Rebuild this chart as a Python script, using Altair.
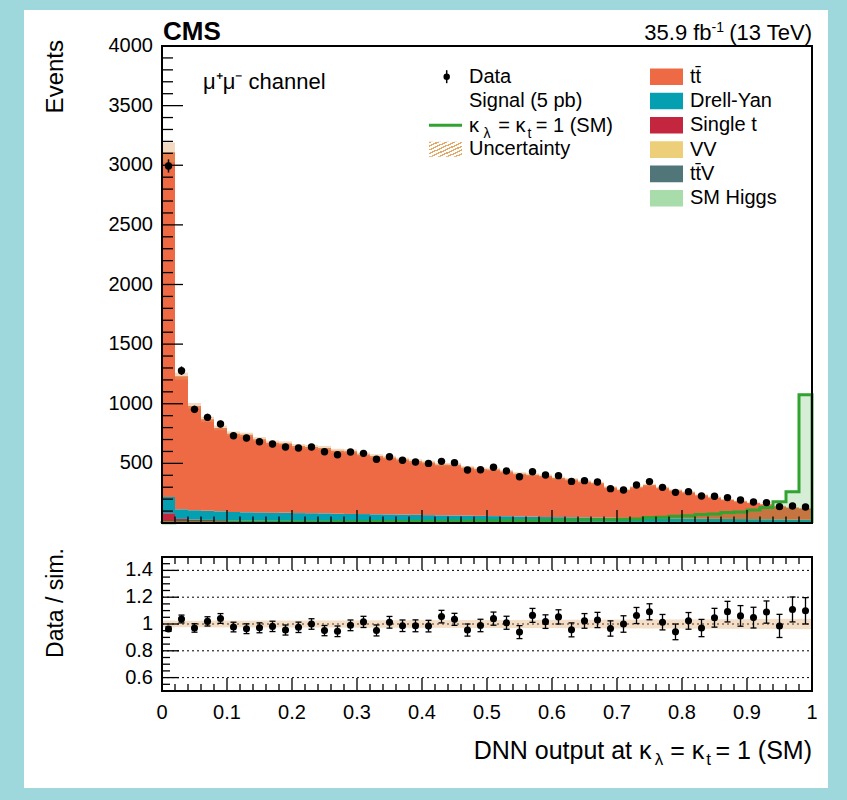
import altair as alt
import numpy as np
import pandas as pd

FONT = "Liberation Sans"

# ---------------- data ----------------
bin_edges = [round(0.02 * i, 2) for i in range(51)]

data_counts = [2994, 1277, 953, 886, 830, 732, 713, 682, 662, 637,
               629, 637, 598, 573, 595, 584, 534, 556, 526, 512,
               500, 517, 506, 444, 447, 467, 436, 388, 430, 402,
               397, 349, 355, 344, 288, 277, 319, 347, 299, 257,
               263, 226, 224, 213, 193, 176, 171, 137, 143, 134]
data_err = [55, 36, 31, 30, 29, 27, 27, 26, 26, 25,
            25, 25, 24, 24, 24, 24, 23, 24, 23, 23,
            22, 23, 22, 21, 21, 22, 21, 20, 21, 20,
            20, 19, 19, 19, 17, 17, 18, 19, 17, 16,
            16, 15, 15, 15, 14, 13, 13, 12, 12, 12]

ttbar = [2891, 1116, 875, 767, 699, 656, 649, 613, 587, 582,
         562, 555, 548, 528, 525, 500, 488, 477, 463, 450,
         442, 426, 426, 403, 392, 391, 375, 358, 351, 345,
         328, 317, 300, 288, 253, 234, 258, 277, 255, 234,
         219, 197, 179, 161, 149, 136, 126, 109, 101, 95]
drell_yan = [136, 81, 78, 76, 74, 72, 70, 69, 68, 66,
             65, 64, 63, 61, 60, 59, 58, 57, 55, 54,
             52, 50, 49, 48, 47, 46, 45, 43, 42, 40,
             39, 38, 37, 36, 35, 34, 33, 32, 31, 30,
             29, 28, 27, 26, 25, 24, 23, 22, 21, 20]
single_t = [70, 25, 20, 17, 15, 13, 12, 12, 11, 11,
            10, 10, 10, 9, 9, 9, 8, 8, 8, 8,
            7, 7, 7, 7, 6, 6, 6, 6, 6, 5,
            5, 5, 5, 5, 5, 4, 4, 4, 4, 4,
            4, 3, 3, 3, 3, 3, 3, 3, 2, 2]
vv = [6, 5, 5, 5, 5, 4, 4, 4, 4, 4,
      4, 4, 4, 4, 3, 3, 3, 3, 3, 3,
      3, 3, 3, 3, 3, 3, 3, 3, 2, 2,
      2, 2, 2, 2, 2, 2, 2, 2, 2, 2,
      2, 2, 2, 2, 2, 2, 2, 2, 2, 2]
ttv = [5, 3, 3, 3, 3, 3, 3, 3, 3, 3,
       3, 3, 3, 3, 3, 3, 3, 3, 3, 3,
       3, 3, 3, 3, 3, 2, 2, 2, 2, 2,
       2, 2, 2, 2, 2, 2, 2, 2, 2, 2,
       2, 2, 2, 2, 2, 2, 2, 2, 2, 2]
sm_higgs = [1, 1, 1, 1, 1, 1, 1, 1, 1, 1,
            1, 1, 1, 1, 1, 1, 1, 1, 1, 1,
            1, 1, 1, 1, 1, 1, 1, 1, 1, 1,
            1, 1, 1, 1, 1, 1, 1, 1, 1, 1,
            1, 1, 1, 1, 1, 1, 1, 1, 1, 1]
signal = [3, 4, 4, 5, 5, 6, 6, 7, 7, 8,
          8, 9, 9, 10, 10, 11, 12, 12, 13, 14,
          15, 15, 16, 17, 18, 19, 20, 21, 22, 23,
          24, 25, 27, 28, 30, 32, 34, 46, 49, 57,
          60, 72, 75, 89, 93, 108, 131, 178, 262, 1075]
rel_unc = [0.026, 0.024, 0.024, 0.025, 0.025, 0.025, 0.025, 0.026, 0.026, 0.026,
           0.026, 0.027, 0.027, 0.027, 0.027, 0.028, 0.028, 0.028, 0.028, 0.029,
           0.029, 0.029, 0.029, 0.030, 0.030, 0.030, 0.030, 0.031, 0.031, 0.031,
           0.031, 0.032, 0.032, 0.032, 0.033, 0.033, 0.033, 0.034, 0.034, 0.034,
           0.035, 0.035, 0.035, 0.036, 0.036, 0.037, 0.037, 0.038, 0.038, 0.039]

process_names = ["SM Higgs", "ttV", "VV", "Single t", "Drell-Yan", "ttbar"]
process_colors = ["#a8dcaa", "#51767a", "#eccf78", "#c4263f", "#04a0b2", "#ed6a44"]
process_series = {"SM Higgs": sm_higgs, "ttV": ttv, "VV": vv,
                  "Single t": single_t, "Drell-Yan": drell_yan, "ttbar": ttbar}

legend_right = [("tt̄", "#ed6a44"), ("Drell-Yan", "#04a0b2"), ("Single t", "#c4263f"),
                ("VV", "#eccf78"), ("tt̄V", "#51767a"), ("SM Higgs", "#a8dcaa")]

y_major_top = list(range(0, 4001, 500))
y_minor_top = [v for v in range(0, 4001, 100) if v % 500]
y_label_vals_top = [500, 1000, 1500, 2000, 2500, 3000, 3500, 4000]
y_label_text_top = ["500", "1000", "1500", "2000", "2500", "3000", "3500", "4000"]
x_major = [round(0.1 * i, 1) for i in range(11)]
x_minor = [round(0.02 * i, 2) for i in range(51) if i % 5]
x_label_text = ["0", "0.1", "0.2", "0.3", "0.4", "0.5", "0.6", "0.7", "0.8", "0.9", "1"]
r_major = [0.6, 0.8, 1.0, 1.2, 1.4]
r_label_text = ["0.6", "0.8", "1", "1.2", "1.4"]
r_minor = [0.55, 0.65, 0.7, 0.75, 0.85, 0.9, 0.95, 1.05, 1.1, 1.15, 1.25, 1.3, 1.35, 1.45]
r_grid = [0.6, 0.8, 1.0, 1.2, 1.4]

SIG_GREEN = "#31a331"
HATCH = "#e0a060"

# ---------------- tables ----------------
lo = bin_edges[:-1]
hi = bin_edges[1:]
cen = [(a + b) / 2 for a, b in zip(lo, hi)]

rows = []
base = np.zeros(50)
for name in process_names:
    v = np.asarray(process_series[name], float)
    for i in range(50):
        rows.append({"lo": lo[i], "hi": hi[i], "y0": base[i], "y1": base[i] + v[i], "proc": name})
    base = base + v
stack_df = pd.DataFrame(rows)
total = base

ru = np.asarray(rel_unc)
n = np.asarray(data_counts, float)
ne = np.asarray(data_err, float)
unc_df = pd.DataFrame({"lo": lo, "hi": hi, "ulo": total * (1 - ru), "uhi": total * (1 + ru),
                       "blo": 1 - ru, "bhi": 1 + ru})
data_df = pd.DataFrame({"c": cen, "n": n, "elo": n - ne, "ehi": n + ne,
                        "r": n / total, "rlo": (n - ne) / total, "rhi": (n + ne) / total})

sig_area_df = pd.DataFrame({"x": lo + [1.0], "s": signal + [signal[-1]], "z": 0.0})
pts = [(0.0, 0.0)]
for i in range(50):
    pts.append((lo[i], signal[i]))
    pts.append((hi[i], signal[i]))
pts.append((1.0, 0.0))
sig_line_df = pd.DataFrame({"x": [p[0] for p in pts], "s": [p[1] for p in pts], "i": list(range(len(pts)))})

one = pd.DataFrame({"k": [0]})

W, H1, H2 = 650, 477, 134
XS = alt.Scale(domain=[0, 1], nice=False, zero=False)
YS = alt.Scale(domain=[0, 4000], nice=False, zero=False)
RS = alt.Scale(domain=[0.5, 1.5], nice=False, zero=False)


def text_layer(txt, x, y, size=20, align="left", baseline="middle", weight="normal", angle=0):
    return alt.Chart(one).mark_text(
        text=txt, font=FONT, fontSize=size, align=align, baseline=baseline,
        fontWeight=weight, angle=angle, color="black"
    ).encode(x=alt.value(x), y=alt.value(y))


def xticks(vals, y0, y1):
    return alt.Chart(pd.DataFrame({"t": vals})).mark_rule(color="black", strokeWidth=1.3).encode(
        x=alt.X("t:Q", scale=XS, axis=None), y=alt.value(y0), y2=alt.value(y1))


def yticks(vals, length, scale):
    return alt.Chart(pd.DataFrame({"t": vals})).mark_rule(color="black", strokeWidth=1.3).encode(
        y=alt.Y("t:Q", scale=scale, axis=None), x=alt.value(0), x2=alt.value(length))


def ylabels(vals, texts, scale):
    return alt.Chart(pd.DataFrame({"v": vals, "t": texts})).mark_text(
        font=FONT, fontSize=20, align="right", baseline="middle", color="black").encode(
        y=alt.Y("v:Q", scale=scale, axis=None), x=alt.value(-9), text="t:N")


def xlabels(vals, texts, y):
    return alt.Chart(pd.DataFrame({"v": vals, "t": texts})).mark_text(
        font=FONT, fontSize=20, align="center", baseline="top", color="black").encode(
        x=alt.X("v:Q", scale=XS, axis=None), y=alt.value(y), text="t:N")


def frame(h):
    return alt.Chart(one).mark_rect(fillOpacity=0, stroke="black", strokeWidth=2).encode(
        x=alt.value(0), x2=alt.value(W), y=alt.value(0), y2=alt.value(h))


def white_bg(y0, y1):
    return alt.Chart(one).mark_rect(fill="white").encode(
        x=alt.value(-138), x2=alt.value(666), y=alt.value(y0), y2=alt.value(y1))


# ---------------- top panel ----------------
stack = alt.Chart(stack_df).mark_rect().encode(
    x=alt.X("lo:Q", scale=XS, axis=None),
    x2="hi:Q",
    y=alt.Y("y0:Q", scale=YS, axis=None),
    y2="y1:Q",
    color=alt.Color("proc:N", scale=alt.Scale(domain=process_names, range=process_colors), legend=None),
)
band_top = alt.Chart(unc_df).mark_rect(fill=HATCH, opacity=0.4).encode(
    x=alt.X("lo:Q", scale=XS, axis=None), x2="hi:Q",
    y=alt.Y("ulo:Q", scale=YS, axis=None), y2="uhi:Q")
sig_area = alt.Chart(sig_area_df).mark_area(interpolate="step-after", color=SIG_GREEN, opacity=0.2).encode(
    x=alt.X("x:Q", scale=XS, axis=None), y=alt.Y("s:Q", scale=YS, axis=None), y2="z:Q")
sig_line = alt.Chart(sig_line_df).mark_line(color=SIG_GREEN, strokeWidth=3).encode(
    x=alt.X("x:Q", scale=XS, axis=None), y=alt.Y("s:Q", scale=YS, axis=None), order="i:Q")
derr = alt.Chart(data_df).mark_rule(color="black", strokeWidth=1.5).encode(
    x=alt.X("c:Q", scale=XS, axis=None), y=alt.Y("elo:Q", scale=YS, axis=None), y2="ehi:Q")
dpts = alt.Chart(data_df).mark_circle(color="black", opacity=1, size=55).encode(
    x=alt.X("c:Q", scale=XS, axis=None), y=alt.Y("n:Q", scale=YS, axis=None))

hatch_grad = alt.LinearGradient(
    gradient="linear", x1=0, y1=0, x2=1, y2=1,
    stops=sum([[alt.GradientStop(color="#e4a868", offset=k / 8),
                alt.GradientStop(color="#e4a868", offset=(k + 0.4) / 8),
                alt.GradientStop(color="#ffffff", offset=(k + 0.4) / 8),
                alt.GradientStop(color="#ffffff", offset=(k + 1) / 8)] for k in range(8)], []))

top_layers = [
    white_bg(-36, 494),
    stack, band_top, sig_area, sig_line, derr, dpts,
    yticks(y_major_top, 21, YS), yticks(y_minor_top, 11, YS),
    xticks(x_major, H1, H1 - 13), xticks(x_minor, H1, H1 - 6.5),
    frame(H1),
    ylabels(y_label_vals_top, y_label_text_top, YS),
    text_layer("CMS", 1, -6, size=26, baseline="alphabetic", weight="bold"),
    text_layer("35.9 fb", 549.6, -6, size=22, align="right", baseline="alphabetic"),
    text_layer("-1", 562, -14, size=14, align="right", baseline="alphabetic"),
    text_layer("(13 TeV)", 650, -6, size=22, align="right", baseline="alphabetic"),
    text_layer("μ⁺μ⁻ channel", 41, 36, size=22),
    text_layer("Events", -99, -6, size=24, align="right", baseline="alphabetic", angle=270),
    # legend, left column
    alt.Chart(one).mark_rule(color="black", strokeWidth=1.5).encode(
        x=alt.value(284.7), y=alt.value(24.2), y2=alt.value(37.2)),
    alt.Chart(one).mark_circle(color="black", opacity=1, size=42).encode(
        x=alt.value(284.7), y=alt.value(30.7)),
    text_layer("Data", 307, 30.7),
    text_layer("Signal (5 pb)", 307, 54.7),
    alt.Chart(one).mark_rule(color=SIG_GREEN, strokeWidth=3).encode(
        x=alt.value(267), x2=alt.value(300), y=alt.value(79.3)),
    text_layer("κ", 317, 86.3, size=20, align="right", baseline="alphabetic"),
    text_layer("λ", 328.5, 91.5, size=14, align="right", baseline="alphabetic"),
    text_layer("= κ", 363.5, 86.3, size=20, align="right", baseline="alphabetic"),
    text_layer("t", 369.5, 91.5, size=14, align="right", baseline="alphabetic"),
    text_layer("= 1 (SM)", 451, 86.3, size=20, align="right", baseline="alphabetic"),
    alt.Chart(one).mark_rect(fill=hatch_grad).encode(
        x=alt.value(267), x2=alt.value(300), y=alt.value(95.7), y2=alt.value(110.7)),
    text_layer("Uncertainty", 307, 103),
]
for k, (lab, col) in enumerate(legend_right):
    yc = 30.7 + 24.3 * k
    top_layers.append(alt.Chart(one).mark_rect(color=col).encode(
        x=alt.value(488), x2=alt.value(521), y=alt.value(yc - 8.3), y2=alt.value(yc + 8.3)))
    top_layers.append(text_layer(lab, 528, yc))

top = alt.layer(*top_layers).properties(width=W, height=H1)

# ---------------- ratio panel ----------------
grid = alt.Chart(pd.DataFrame({"g": r_grid})).mark_rule(color="black", strokeWidth=1, strokeDash=[2, 3]).encode(
    y=alt.Y("g:Q", scale=RS, axis=None), x=alt.value(0), x2=alt.value(W))
band_r = alt.Chart(unc_df).mark_rect(fill=HATCH, opacity=0.35).encode(
    x=alt.X("lo:Q", scale=XS, axis=None), x2="hi:Q",
    y=alt.Y("blo:Q", scale=RS, axis=None), y2="bhi:Q")
rerr = alt.Chart(data_df).mark_rule(color="black", strokeWidth=1.3).encode(
    x=alt.X("c:Q", scale=XS, axis=None), y=alt.Y("rlo:Q", scale=RS, axis=None), y2="rhi:Q")
cap_lo = alt.Chart(data_df).mark_rule(color="black", strokeWidth=1.3, xOffset=-3, x2Offset=3).encode(
    x=alt.X("c:Q", scale=XS, axis=None), x2="c:Q", y=alt.Y("rlo:Q", scale=RS, axis=None))
cap_hi = alt.Chart(data_df).mark_rule(color="black", strokeWidth=1.3, xOffset=-3, x2Offset=3).encode(
    x=alt.X("c:Q", scale=XS, axis=None), x2="c:Q", y=alt.Y("rhi:Q", scale=RS, axis=None))
rpts = alt.Chart(data_df).mark_circle(color="black", opacity=1, size=50).encode(
    x=alt.X("c:Q", scale=XS, axis=None), y=alt.Y("r:Q", scale=RS, axis=None))

bottom_layers = [
    white_bg(-17, 231),
    grid, band_r, rerr, cap_lo, cap_hi, rpts,
    yticks(r_major, 17, RS), yticks(r_minor, 8, RS),
    xticks(x_major, 0, 13), xticks(x_minor, 0, 7),
    xticks(x_major, H2, H2 - 13), xticks(x_minor, H2, H2 - 7),
    frame(H2),
    ylabels(r_major, r_label_text, RS),
    xlabels(x_major, x_label_text, H2 + 12),
    text_layer("Data / sim.", -99, -9, size=23, align="right", baseline="alphabetic", angle=270),
    text_layer("DNN output at κ", 489.5, 202, size=25, align="right", baseline="alphabetic"),
    text_layer("λ", 501.3, 207.5, size=17, align="right", baseline="alphabetic"),
    text_layer("= κ", 542.3, 202, size=25, align="right", baseline="alphabetic"),
    text_layer("t", 549, 207.5, size=17, align="right", baseline="alphabetic"),
    text_layer("= 1 (SM)", 650, 202, size=25, align="right", baseline="alphabetic"),
]
bottom = alt.layer(*bottom_layers).properties(width=W, height=H2)

chart = alt.vconcat(top, bottom, spacing=0).properties(
    padding={"left": 24, "top": 10, "right": 19, "bottom": 12},
    background="#9fd8dc",
).configure_view(stroke=None).configure_text(font=FONT)

chart.save("out.html", embed_options={"renderer": "svg", "actions": False})
